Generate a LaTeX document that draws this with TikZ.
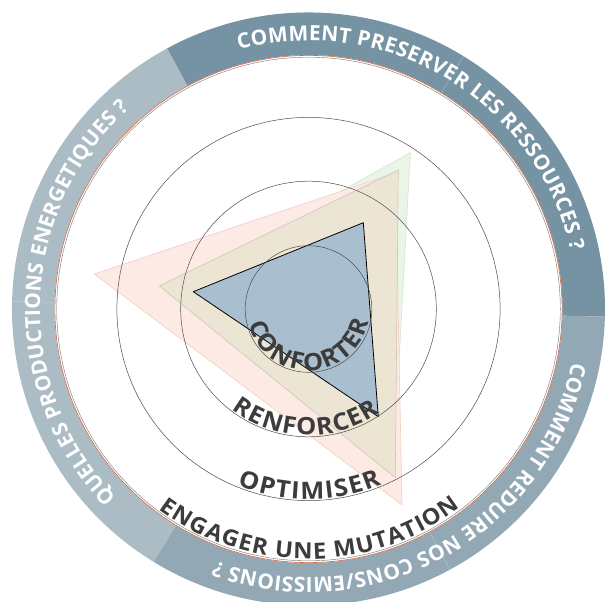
\documentclass[tikz,border=0pt]{standalone}
\usepackage{fontspec}
\setmainfont{Open Sans}
\newfontfamily\widefam[FakeStretch=1.06]{Open Sans}
\usetikzlibrary{decorations.text}

\definecolor{ringdark}{HTML}{7593A2}
\definecolor{ringmid}{HTML}{93A8B5}
\definecolor{ringlight}{HTML}{ABBCC5}
\definecolor{lineorange}{HTML}{D2643C}
\definecolor{labelgrey}{HTML}{3C3C3C}
\definecolor{bluefill}{HTML}{A9BFD0}
\definecolor{beigefill}{HTML}{ECE5D4}
\definecolor{beigeline}{HTML}{CBC7BB}
\definecolor{pinkfill}{HTML}{FDEAE4}
\definecolor{pinkline}{HTML}{F2CFC4}
\definecolor{greenfill}{HTML}{EBF5E7}
\definecolor{greenline}{HTML}{D3E6CC}

\newcommand\ringfont{\fontsize{21}{21}\selectfont\bfseries}
\newcommand\levelfont{\widefam\fontsize{24}{24}\selectfont\bfseries}
\newcommand\mutationfont{\widefam\fontsize{22.5}{22.5}\selectfont\bfseries}

\tikzset{
  ringlabel/.style={decorate, decoration={text along path, text={|\ringfont|#1}, text color=white, text align={fit to path}}},
  levellabel/.style={decorate, decoration={text along path, text={|\levelfont|#1}, text color=labelgrey, text align={fit to path}}},
  levelcircle/.style={draw=black!70, line width=0.5pt},
}

\begin{document}
\begin{tikzpicture}[x=1bp, y=1bp]
\useasboundingbox[fill=white] (-308.5,-293) rectangle (296.5,309);

% outer ring, three sectors
\foreach \a/\col in {118.5/ringdark, -1.5/ringmid, 238.5/ringlight}
  \fill[\col] (\a:296.5) arc[start angle=\a, end angle=\a-120, radius=296.5]
    -- ({\a-120}:254) arc[start angle=\a-120, end angle=\a, radius=254] -- cycle;
\foreach \a in {58.5, 178.5, -61.5}
  \draw[white, opacity=0.35, line width=0.4pt] (\a:254) -- (\a:296.5);
\draw[black!55, line width=0.4pt] (0,0) circle[radius=251.8];
\draw[lineorange, line width=0.6pt] (0,0) circle[radius=253.6];

% radar triangles
\coordinate (gl) at (-139.5,22);
\coordinate (gt) at (101.8,156.3);
\coordinate (gb) at (84.5,-164);
\coordinate (pl) at (-214.2,35);
\coordinate (pt) at (87,136);
\coordinate (pb) at (93.5,-196);
\coordinate (el) at (-149.2,23);
\coordinate (et) at (89.8,139);
\coordinate (eb) at (86.8,-168.7);
\coordinate (bl) at (-115.2,17.3);
\coordinate (bt) at (54.8,86.3);
\coordinate (bb) at (69.8,-107.7);
\filldraw[fill=greenfill, draw=greenline, line width=0.6pt] (gl) -- (gt) -- (gb) -- cycle;
\filldraw[fill=pinkfill, draw=pinkline, line width=0.6pt] (pl) -- (pt) -- (pb) -- cycle;
\filldraw[fill=beigefill, draw=beigeline, line width=0.6pt] (el) -- (et) -- (eb) -- cycle;
\filldraw[fill=bluefill, draw=black, line width=0.8pt, line join=round] (bl) -- (bt) -- (bb) -- cycle;

% level circles
\foreach \r in {63.3, 127.8, 191.6}
  \draw[levelcircle] (0,0) circle[radius=\r];

% level names
\path[levellabel=CONFORTER] (194:61.6) arc[start angle=194, end angle=348, radius=61.6];
\path[levellabel=RENFORCER] (232.5:126.2) arc[start angle=232.5, end angle=304.6, radius=126.2];
\path[levellabel=OPTIMISER] (248:190) arc[start angle=248, end angle=292.6, radius=190];
\path[decorate, decoration={text along path, text={|\mutationfont|ENGAGER UNE MUTATION}, text color=labelgrey, text align={fit to path}}]
  (233.2:250) arc[start angle=233.2, end angle=307.4, radius=250];

% questions on the ring
\path[ringlabel={COMMENT PRESERVER LES RESSOURCES ?}] (105:268.5) arc[start angle=105, end angle=12.5, radius=268.5];
\path[ringlabel={QUELLES PRODUCTIONS ENERGETIQUES ?}] (224.5:268.5) arc[start angle=224.5, end angle=131.7, radius=268.5];
\path[ringlabel={COMMENT REDUIRE NOS CONS/EMISSIONS ?}] (-11.4:268.5) arc[start angle=-11.4, end angle=-110.2, radius=268.5];
\end{tikzpicture}
\end{document}
